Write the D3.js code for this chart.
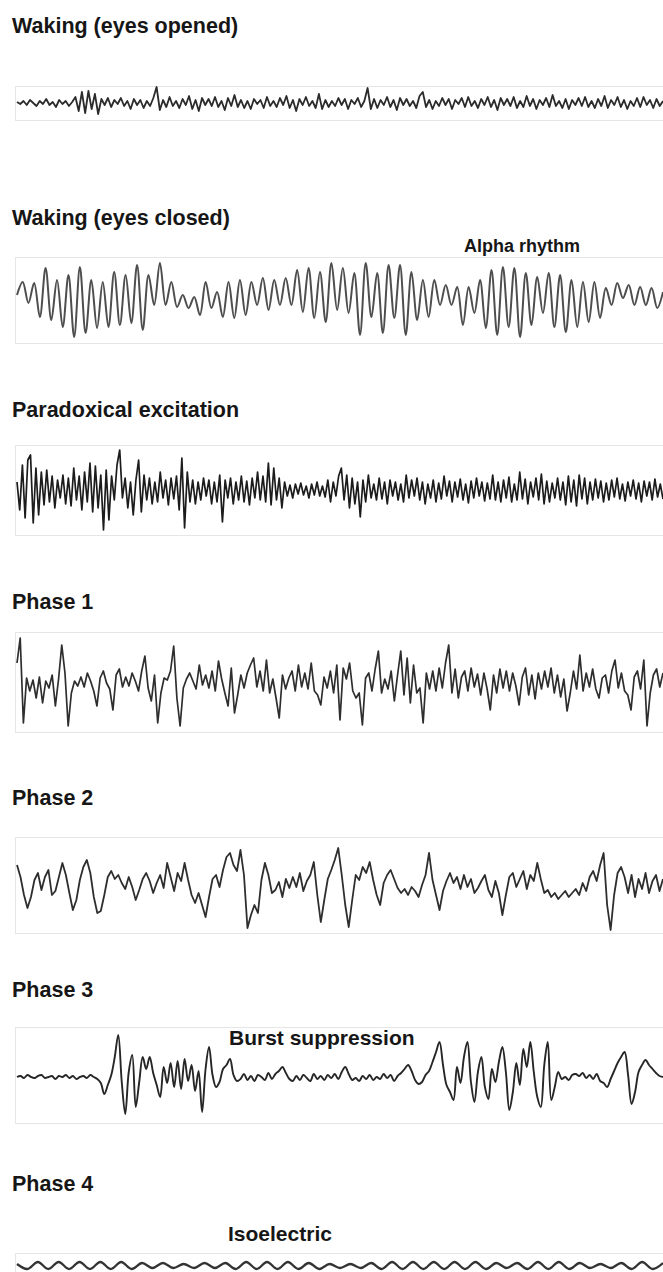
<!DOCTYPE html>
<html>
<head>
<meta charset="utf-8">
<script src="https://cdn.jsdelivr.net/npm/d3@7"></script>
<style>
  html, body { margin: 0; padding: 0; background: #fff; }
  svg { display: block; }
  text { font-family: "Liberation Sans", Arial, sans-serif; font-weight: bold; fill: #161616; }
</style>
</head>
<body>
<svg id="chart" width="663" height="1272"></svg>
<script>
// EEG traces by state, deflection in µV-like units (positive = up), evenly sampled.
const titles = ["Waking (eyes opened)", "Waking (eyes closed)", "Paradoxical excitation",
                "Phase 1", "Phase 2", "Phase 3", "Phase 4"];
const notes = [null, "Alpha rhythm", null, null, null, "Burst suppression", "Isoelectric"];

const wakingOpen = [
  1,-1,2,-2,3,0,-3,2,-1,4,-2,1,-4,3,-1,2,-3,1,6,-8,
  11,-10,12,-6,9,-11,4,-2,5,-4,3,-1,5,-3,2,-6,4,-2,3,-5,
  2,-3,5,16,-7,3,-4,6,-3,2,-5,4,-2,7,-6,3,-8,5,-2,4,
  -3,6,-4,2,-7,5,-3,8,-4,3,-5,2,-6,4,-1,3,-5,6,-3,2,
  -4,5,-2,7,-5,3,-8,4,-2,6,-3,2,-5,9,-6,3,-4,2,-3,5,
  -2,4,-6,3,-1,5,-4,2,15,-6,4,-5,3,-2,6,-4,3,-7,5,-2,
  4,-3,2,-5,7,11,-4,3,-6,2,-3,5,-2,4,-6,3,-1,5,-4,6,
  -3,2,-5,4,-2,6,-4,3,-7,5,-2,4,-3,6,-5,2,-4,7,-3,4,
  -6,3,-2,5,-4,8,-3,2,-5,4,-6,3,-2,5,-3,6,-4,2,-5,4,
  -3,7,-5,3,-2,6,-4,3,-6,2,-3,5,-4,6,-2,3,-5,4,-3,2
];

const wakingClosed = [
  5,18,-3,17,-17,32,-20,20,-27,25,-37,33,-33,20,-28,18,-27,28,-25,25,-23,
  35,-30,25,-5,37,-5,18,-7,5,-8,3,-15,18,-8,8,-17,18,-18,20,-15,18,-5,
  22,-10,20,-5,22,-5,30,-12,32,-18,28,-22,37,-10,32,-13,27,-35,37,-17,
  27,-33,35,-18,35,-35,28,-20,20,-17,20,-5,15,-5,13,-25,13,-13,20,-28,
  30,-35,33,-27,32,-37,27,-25,23,-13,27,-27,25,-32,20,-27,18,-22,18,-18,
  12,-5,17,2,15,-5,13,-5,12,-8,8
];

const paradoxical = [
  8,-20,25,-28,30,35,-33,22,-25,18,-15,20,-12,14,-18,10,-8,15,-14,12,
  -16,22,-10,14,-20,18,-12,27,-22,24,-18,15,-40,20,-30,14,-10,25,40,-8,
  12,-18,8,-25,10,30,-22,15,-10,12,-14,8,-12,18,-8,10,-15,12,-9,14,
  -20,32,-38,18,-12,10,-14,8,-10,12,-6,10,-14,8,-12,15,-32,10,-8,12,
  -14,8,-10,14,-12,9,-15,12,-8,18,-10,14,-12,27,-15,22,-10,12,-18,8,
  -6,5,-8,6,-4,7,-5,4,-8,6,-5,8,-6,4,-7,10,-12,8,-6,14,
  22,-10,15,-18,12,-14,8,-27,10,-12,15,-8,6,-10,12,-9,8,-14,10,-6,
  8,-10,6,-12,15,-8,10,-6,12,-10,8,-14,6,-8,10,-12,7,-9,14,-6,
  9,-12,8,-7,11,-10,6,-13,9,-8,12,-6,8,-11,7,-9,15,-10,8,-12,
  10,-8,13,-12,6,-10,18,-9,11,-14,8,-7,12,-10,16,-14,9,-12,7,-8,
  12,-10,8,-15,14,-12,10,-16,15,-9,12,-14,8,-10,11,-8,9,-12,7,-10,
  10,-7,12,-9,6,-11,8,-6,10,-9,7,-12,9,-6,8,-10,11,-7,6,-9
];

const phase1 = [
  20,45,-40,5,-8,3,-15,6,-20,2,-5,8,-23,4,38,10,-43,-10,2,-3,
  6,-4,10,2,-8,-23,5,12,0,-6,-27,8,14,-4,6,-3,10,2,-8,12,
  27,-5,-18,8,-40,-10,5,3,12,37,-15,-43,-5,4,10,2,-6,18,-2,8,
  -5,12,-8,22,4,-10,-23,15,-30,-12,8,-5,10,18,25,-4,12,-8,23,-10,
  4,-15,-35,8,-6,5,12,-8,18,-4,10,-6,20,-8,-12,-22,6,-5,12,-10,
  18,-37,15,4,20,-8,-15,-10,-42,5,10,-8,14,32,-10,4,-6,12,-18,8,
  32,-12,25,-20,18,-10,-5,-40,10,-6,12,-8,15,-5,20,38,-10,14,-15,6,
  12,-8,15,-4,9,-12,10,-6,-27,8,-10,14,-5,12,-8,10,-3,-22,6,15,
  -12,8,-16,10,-6,12,-4,15,-10,8,-14,4,-28,-10,12,-6,28,-8,10,-4,
  14,-6,-15,5,8,-10,12,23,-5,10,-8,-12,-27,6,12,-6,23,-43,-10,8,
  14,-4,10
];

const phase2 = [
  20,8,-10,-23,-12,5,12,-5,8,15,-10,-6,8,22,10,-8,-25,-15,5,18,
  25,12,-12,-28,-26,-10,8,14,6,10,2,-4,8,-2,-15,-5,6,12,4,-8,
  2,10,-3,22,8,-6,12,4,22,5,-10,-18,-8,-20,-32,-12,6,10,-2,15,
  28,32,20,14,35,10,-43,-30,-20,-28,5,22,10,-8,-5,3,-12,6,-3,8,
  -2,12,-6,4,10,23,-10,-37,-15,6,15,25,37,10,-20,-42,-15,10,5,18,
  12,23,5,-10,-20,2,10,15,6,-3,-8,-4,-10,-2,-6,-12,0,10,32,5,
  -10,-25,-6,4,12,2,8,-4,10,-2,6,-8,-3,4,10,-5,-12,4,-8,-30,
  -10,8,12,-2,6,14,-4,10,4,22,6,-8,-5,-12,-8,-14,-10,-6,-12,-8,
  -4,-10,2,-6,8,14,4,20,32,-20,-45,-10,12,18,8,-8,10,-12,6,-4,
  12,-8,4,10,-6,6
];

const phase3 = [
  0,1,-1,2,0,-1,1,2,-1,0,1,-2,1,0,2,-1,1,-2,0,1,-1,2,0,-2,
  -6,-17,-8,2,20,42,-5,-37,5,22,-30,-5,20,8,20,4,-8,-20,10,-6,
  14,-10,16,-12,18,-4,12,-14,6,-35,8,30,2,-10,-5,8,12,18,2,-4,
  -2,3,-3,1,-4,2,0,-3,4,-2,3,6,10,4,-2,-4,1,-3,2,-1,
  -4,3,-2,1,-3,2,-1,3,-2,5,10,3,-3,-1,-4,1,-2,2,-3,0,
  -2,3,-1,2,-4,1,4,8,12,
  6,-3,-7,-5,2,6,15,25,35,12,-8,-15,-23,10,-6,20,35,-5,-25,5,
  20,-10,-22,8,-5,15,30,5,-33,-15,14,-8,28,10,35,5,-20,-30,12,35,
  -23,-10,5,-2,0,-3,2,3,1,4,-1,2,-2,3,-4,-6,-10,-2,6,14,
  20,25,2,-27,-15,5,12,17,12,8,4,1,0
];

const phase4 = [
  2,-3,4,-3,4,-3,4,-3,4,-3,4,-3,3,-2,3,-2,2,-2,3,-2,
  3,-3,4,-3,4,-3,4,-3,3,-3,2,-2,2,-2,3,-3,4,-3,4,-3,
  4,-3,4,-3,4,-3,3,-2,3,-3,4,-3,4,-3,3,-2,2,-2,3,-3,
  4,-3,3
];

const series = [wakingOpen, wakingClosed, paradoxical, phase1, phase2, phase3, phase4];

// Page geometry for each strip: title baseline, frame and trace midline.
const layout = [
  { titleY: 33,   top: 86,   bottom: 120,  mid: 103 },
  { titleY: 225,  top: 257,  bottom: 343,  mid: 300, noteX: 464, noteY: 252, noteSize: 18 },
  { titleY: 417,  top: 445,  bottom: 535,  mid: 490 },
  { titleY: 609,  top: 632,  bottom: 732,  mid: 683 },
  { titleY: 805,  top: 837,  bottom: 933,  mid: 885 },
  { titleY: 997,  top: 1027, bottom: 1123, mid: 1077, noteX: 229, noteY: 1045, noteSize: 21 },
  { titleY: 1191, top: 1253, bottom: 1310, mid: 1266, noteX: 228, noteY: 1241, noteSize: 21 }
];
const styles = [
  { width: 1.8, color: "#2b2b2b", curve: d3.curveLinear },
  { width: 2.0, color: "#4e4e4e", curve: d3.curveCatmullRom },
  { width: 1.7, color: "#1c1c1c", curve: d3.curveLinear },
  { width: 1.7, color: "#2e2e2e", curve: d3.curveLinear },
  { width: 1.8, color: "#2e2e2e", curve: d3.curveLinear },
  { width: 1.9, color: "#262626", curve: d3.curveCatmullRom },
  { width: 2.3, color: "#333",    curve: d3.curveCatmullRom }
];

const svg = d3.select("#chart");
const x0 = 17, x1 = 663;

series.forEach((vals, k) => {
  const L = layout[k], S = styles[k];
  const g = svg.append("g");

  g.append("text")
    .attr("x", 12).attr("y", L.titleY)
    .style("font-size", "21.5px")
    .text(titles[k]);

  g.append("rect")
    .attr("x", 15.5).attr("y", L.top + 0.5)
    .attr("width", 700).attr("height", L.bottom - L.top)
    .attr("fill", "none").attr("stroke", "#e6e6e6");

  if (notes[k]) {
    g.append("text")
      .attr("x", L.noteX).attr("y", L.noteY)
      .style("font-size", L.noteSize + "px")
      .text(notes[k]);
  }

  const x = d3.scaleLinear().domain([0, vals.length - 1]).range([x0, x1]);
  const y = d3.scaleLinear().domain([-50, 50]).range([L.mid + 50, L.mid - 50]);
  const line = d3.line().x((d, i) => x(i)).y(d => y(d)).curve(S.curve);

  g.append("path")
    .datum(vals)
    .attr("d", line)
    .attr("fill", "none")
    .attr("stroke", S.color)
    .attr("stroke-width", S.width)
    .attr("stroke-linejoin", "round");
});
</script>
</body>
</html>
